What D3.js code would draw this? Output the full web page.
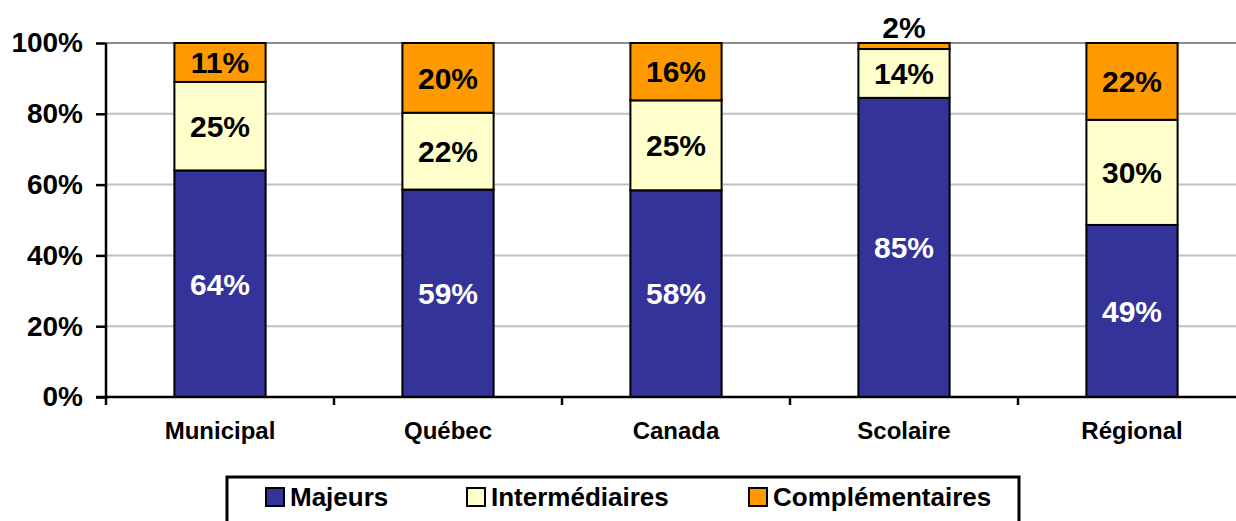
<!DOCTYPE html>
<html>
<head>
<meta charset="utf-8">
<script src="https://cdn.jsdelivr.net/npm/d3@7"></script>
<style>
  body { margin: 0; background: #fff; }
  svg { display: block; font-family: "Liberation Sans", Arial, sans-serif; font-weight: bold; }
</style>
</head>
<body>
<div id="chart"></div>
<script>
const categories = ["Municipal", "Québec", "Canada", "Scolaire", "Régional"]
const majeurs = [64, 58.6, 58.4, 84.5, 48.6]
const intermediaires = [25, 21.7, 25.4, 13.8, 29.7]
const complementaires = [11, 19.7, 16.2, 1.7, 21.7]
const seriesNames = ["Majeurs", "Intermédiaires", "Complémentaires"]
const seriesColors = ["#333399", "#ffffcc", "#ff9900"]
const labelColors = ["#fff", "#000", "#000"]
const yTicks = [0, 0.2, 0.4, 0.6, 0.8, 1]

const width = 1236, height = 521
const mLeft = 106, mTop = 43, mBottom = 397, mRight = 1246

const rows = categories.map((c, i) => ({
  cat: c, Majeurs: majeurs[i], "Intermédiaires": intermediaires[i], "Complémentaires": complementaires[i]
}))

const stack = d3.stack().keys(seriesNames).offset(d3.stackOffsetExpand)
const layers = stack(rows)

const x = d3.scaleBand().domain(categories).range([mLeft, mRight])
  .paddingInner(0.6).paddingOuter(0.3)
const y = d3.scaleLinear().domain([0, 1]).range([mBottom, mTop])

const svg = d3.select("#chart").append("svg")
  .attr("width", width).attr("height", height)

// gridlines
svg.append("g").selectAll("line")
  .data(yTicks.filter(d => d > 0))
  .enter().append("line")
  .attr("x1", mLeft).attr("x2", width)
  .attr("y1", d => y(d)).attr("y2", d => y(d))
  .attr("stroke", d => d === 1 ? "#8c8c8c" : "#c0c0c0")
  .attr("stroke-width", 2)

// bars
const groups = svg.append("g").selectAll("g")
  .data(layers)
  .enter().append("g")
  .attr("fill", (d, i) => seriesColors[i])

groups.selectAll("rect")
  .data(d => d)
  .enter().append("rect")
  .attr("x", d => x(d.data.cat))
  .attr("width", x.bandwidth())
  .attr("y", d => y(d[1]))
  .attr("height", d => y(d[0]) - y(d[1]))
  .attr("stroke", "#000")
  .attr("stroke-width", 2)

// value labels
layers.forEach((layer, si) => {
  svg.append("g").selectAll("text")
    .data(layer)
    .enter().append("text")
    .attr("x", d => x(d.data.cat) + x.bandwidth() / 2)
    .attr("y", d => {
      let h = y(d[0]) - y(d[1])
      if (h < 25) return y(d[1]) - 16
      return (y(d[0]) + y(d[1])) / 2
    })
    .attr("dy", "0.36em")
    .attr("text-anchor", "middle")
    .attr("fill", d => (y(d[0]) - y(d[1]) < 25) ? "#000" : labelColors[si])
    .style("font-size", "30px")
    .text(d => Math.round(d.data[layer.key]) + "%")
})

// y axis
const yAxis = svg.append("g")
  .attr("transform", `translate(${mLeft},0)`)
  .call(d3.axisLeft(y).tickValues(yTicks).tickFormat(d3.format(".0%")).tickSize(10).tickPadding(13))
yAxis.select(".domain").attr("stroke", "#000").attr("stroke-width", 2.5)
  .attr("d", `M0,${mTop}V${mBottom}`)
yAxis.selectAll(".tick line").attr("stroke", "#000").attr("stroke-width", 2.5)
yAxis.selectAll(".tick text").attr("fill", "#000")
  .style("font-size", "28px").style("font-weight", "bold")
  .style("font-family", "'Liberation Sans', Arial, sans-serif")

// x axis
const xAxis = svg.append("g")
  .attr("transform", `translate(0,${mBottom})`)
  .call(d3.axisBottom(x).tickSize(0).tickPadding(25))
xAxis.select(".domain").attr("stroke", "#000").attr("stroke-width", 2.5)
  .attr("d", `M${mLeft - 10},0H${width}`)
xAxis.selectAll(".tick text").attr("fill", "#000")
  .style("font-size", "24px").style("font-weight", "bold")
  .style("font-family", "'Liberation Sans', Arial, sans-serif")

// category boundary ticks
const slotEdges = categories.map(c => x(c) - x.step() * x.paddingOuter())
svg.append("g").selectAll("line")
  .data(slotEdges)
  .enter().append("line")
  .attr("x1", d => d).attr("x2", d => d)
  .attr("y1", mBottom).attr("y2", mBottom + 8)
  .attr("stroke", "#000").attr("stroke-width", 2.5)

// legend
const legend = svg.append("g")
legend.append("rect")
  .attr("x", 227).attr("y", 477).attr("width", 792).attr("height", 60)
  .attr("fill", "#fff").attr("stroke", "#000").attr("stroke-width", 3)

const legendX = [266, 467, 749]
seriesNames.forEach((name, i) => {
  const g = legend.append("g").attr("transform", `translate(${legendX[i]},488)`)
  g.append("rect").attr("width", 18).attr("height", 18)
    .attr("fill", seriesColors[i]).attr("stroke", "#000").attr("stroke-width", 2)
  g.append("text").attr("x", 24).attr("y", 9).attr("dy", "0.36em")
    .style("font-size", "26px")
    .text(name)
})
</script>
</body>
</html>
